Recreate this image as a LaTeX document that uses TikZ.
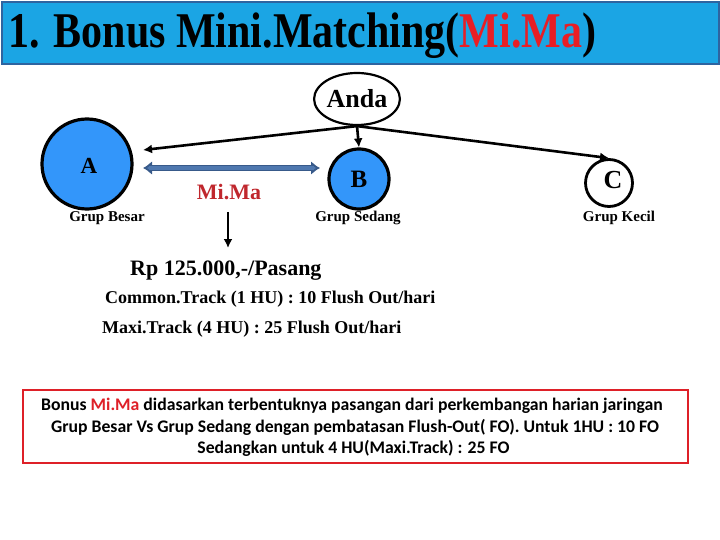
\documentclass[tikz,border=0pt]{standalone}
\usepackage{fontspec}
\setmainfont{Liberation Serif}
\newfontfamily\calib{Carlito}
\usetikzlibrary{arrows.meta,shapes.geometric}
\definecolor{titlebg}{RGB}{27,165,228}
\definecolor{titleborder}{RGB}{46,100,160}
\definecolor{titlered}{RGB}{232,30,37}
\definecolor{mimared}{RGB}{192,39,45}
\definecolor{circblue}{RGB}{51,150,250}
\definecolor{dblfill}{RGB}{79,120,175}
\definecolor{dbldraw}{RGB}{56,90,138}
\definecolor{boxred}{RGB}{222,32,40}
\tikzset{
  x=1pt,y=-1pt,
  grpcircle/.style={circle,draw=black,line width=3.2pt,inner sep=0pt},
  grplabel/.style={font=\fontsize{15}{15}\selectfont\bfseries,inner sep=0pt},
  blackarr/.style={draw=black,line width=2.6pt,-{Latex[length=9pt,width=9pt]}},
  infoline/.style={anchor=base west,inner sep=0pt},
  boxline/.style={anchor=base,inner sep=0pt,font=\calib\fontsize{17.7}{21}\selectfont\bfseries},
}
\begin{document}
\begin{tikzpicture}
\useasboundingbox (0,0) rectangle (720,540);
\fill[white] (0,0) rectangle (720,540);
% title bar
\node[draw=titleborder,fill=titlebg,line width=2pt,minimum width=717pt,minimum height=62pt,anchor=north west,inner sep=0pt] (bar) at (1,1) {};
\node[anchor=base west,inner sep=0pt] (title) at (8,48) {\fontsize{50}{50}\selectfont\bfseries\scalebox{0.84}[1]{1. Bonus Mini.Matching(\textcolor{titlered}{Mi.Ma})}};
% Anda
\node[ellipse,draw=black,line width=2.2pt,fill=white,minimum width=80pt,minimum height=52pt,inner sep=0pt] (anda) at (357,99) {\fontsize{26}{26}\selectfont\bfseries Anda};
% circles
\node[grpcircle,fill=circblue,minimum size=90pt] (A) at (87,164) {};
\node[inner sep=0pt] (Atxt) at (89,166) {\fontsize{23}{23}\selectfont\bfseries A};
\node[grpcircle,fill=circblue,minimum size=60pt] (B) at (359,179) {\fontsize{25}{25}\selectfont\bfseries B};
\node[grpcircle,fill=white,line width=2.8pt,minimum size=47pt] (C) at (609,183) {};
\node[inner sep=0pt] (Ctxt) at (613,180) {\fontsize{26}{26}\selectfont\bfseries C};
% group labels
\node[grplabel] (gA) at (107,218) {Grup Besar};
\node[grplabel] (gB) at (358,218) {Grup Sedang};
\node[grplabel] (gC) at (619,218) {Grup Kecil};
% connectors from Anda
\coordinate (aEnd) at (143,150);
\draw[blackarr] (anda.south) -- (aEnd);
\draw[blackarr] (anda.south) -- (B.north);
\draw[blackarr] (anda.south) -- (C.north);
% double arrow
\coordinate (dl) at (143,168);
\coordinate (dr) at (320,168);
\draw[draw=dbldraw,line width=6pt,{Latex[length=9pt,width=14pt,fill=dblfill]}-{Latex[length=9pt,width=14pt,fill=dblfill]}] (dl) -- (dr);
\draw[draw=dblfill,line width=3.5pt,shorten <=6pt,shorten >=6pt] (dl) -- (dr);
% Mi.Ma
\node[inner sep=0pt,anchor=base] (mima) at (229,200) {\fontsize{22}{22}\selectfont\bfseries\color{mimared}Mi.Ma};
\coordinate (mtop) at (228,212);
\coordinate (mbot) at (228,248);
\draw[blackarr] (mtop) -- (mbot);
% info lines
\node[infoline] (rp) at (130,275) {\fontsize{22}{22}\selectfont\bfseries Rp 125.000,-/Pasang};
\node[infoline] (ct) at (105,303) {\fontsize{18}{18}\selectfont\bfseries Common.Track (1 HU) : 10 Flush Out/hari};
\node[infoline] (mt) at (102,333) {\fontsize{18}{18}\selectfont\bfseries Maxi.Track (4 HU) : 25 Flush Out/hari};
% red box
\node[draw=boxred,line width=2.5pt,minimum width=665pt,minimum height=73pt,inner sep=0pt] (box) at (355.5,426.5) {};
\node[boxline] (bl1) at (352,410) {Bonus \textcolor{boxred}{Mi.Ma} didasarkan terbentuknya pasangan dari perkembangan harian jaringan};
\node[boxline] (bl2) at (355,432) {Grup Besar Vs Grup Sedang dengan pembatasan Flush-Out( FO). Untuk 1HU : 10 FO};
\node[boxline] (bl3) at (353.5,453) {Sedangkan untuk 4 HU(Maxi.Track) : 25 FO};
\end{tikzpicture}
\end{document}
